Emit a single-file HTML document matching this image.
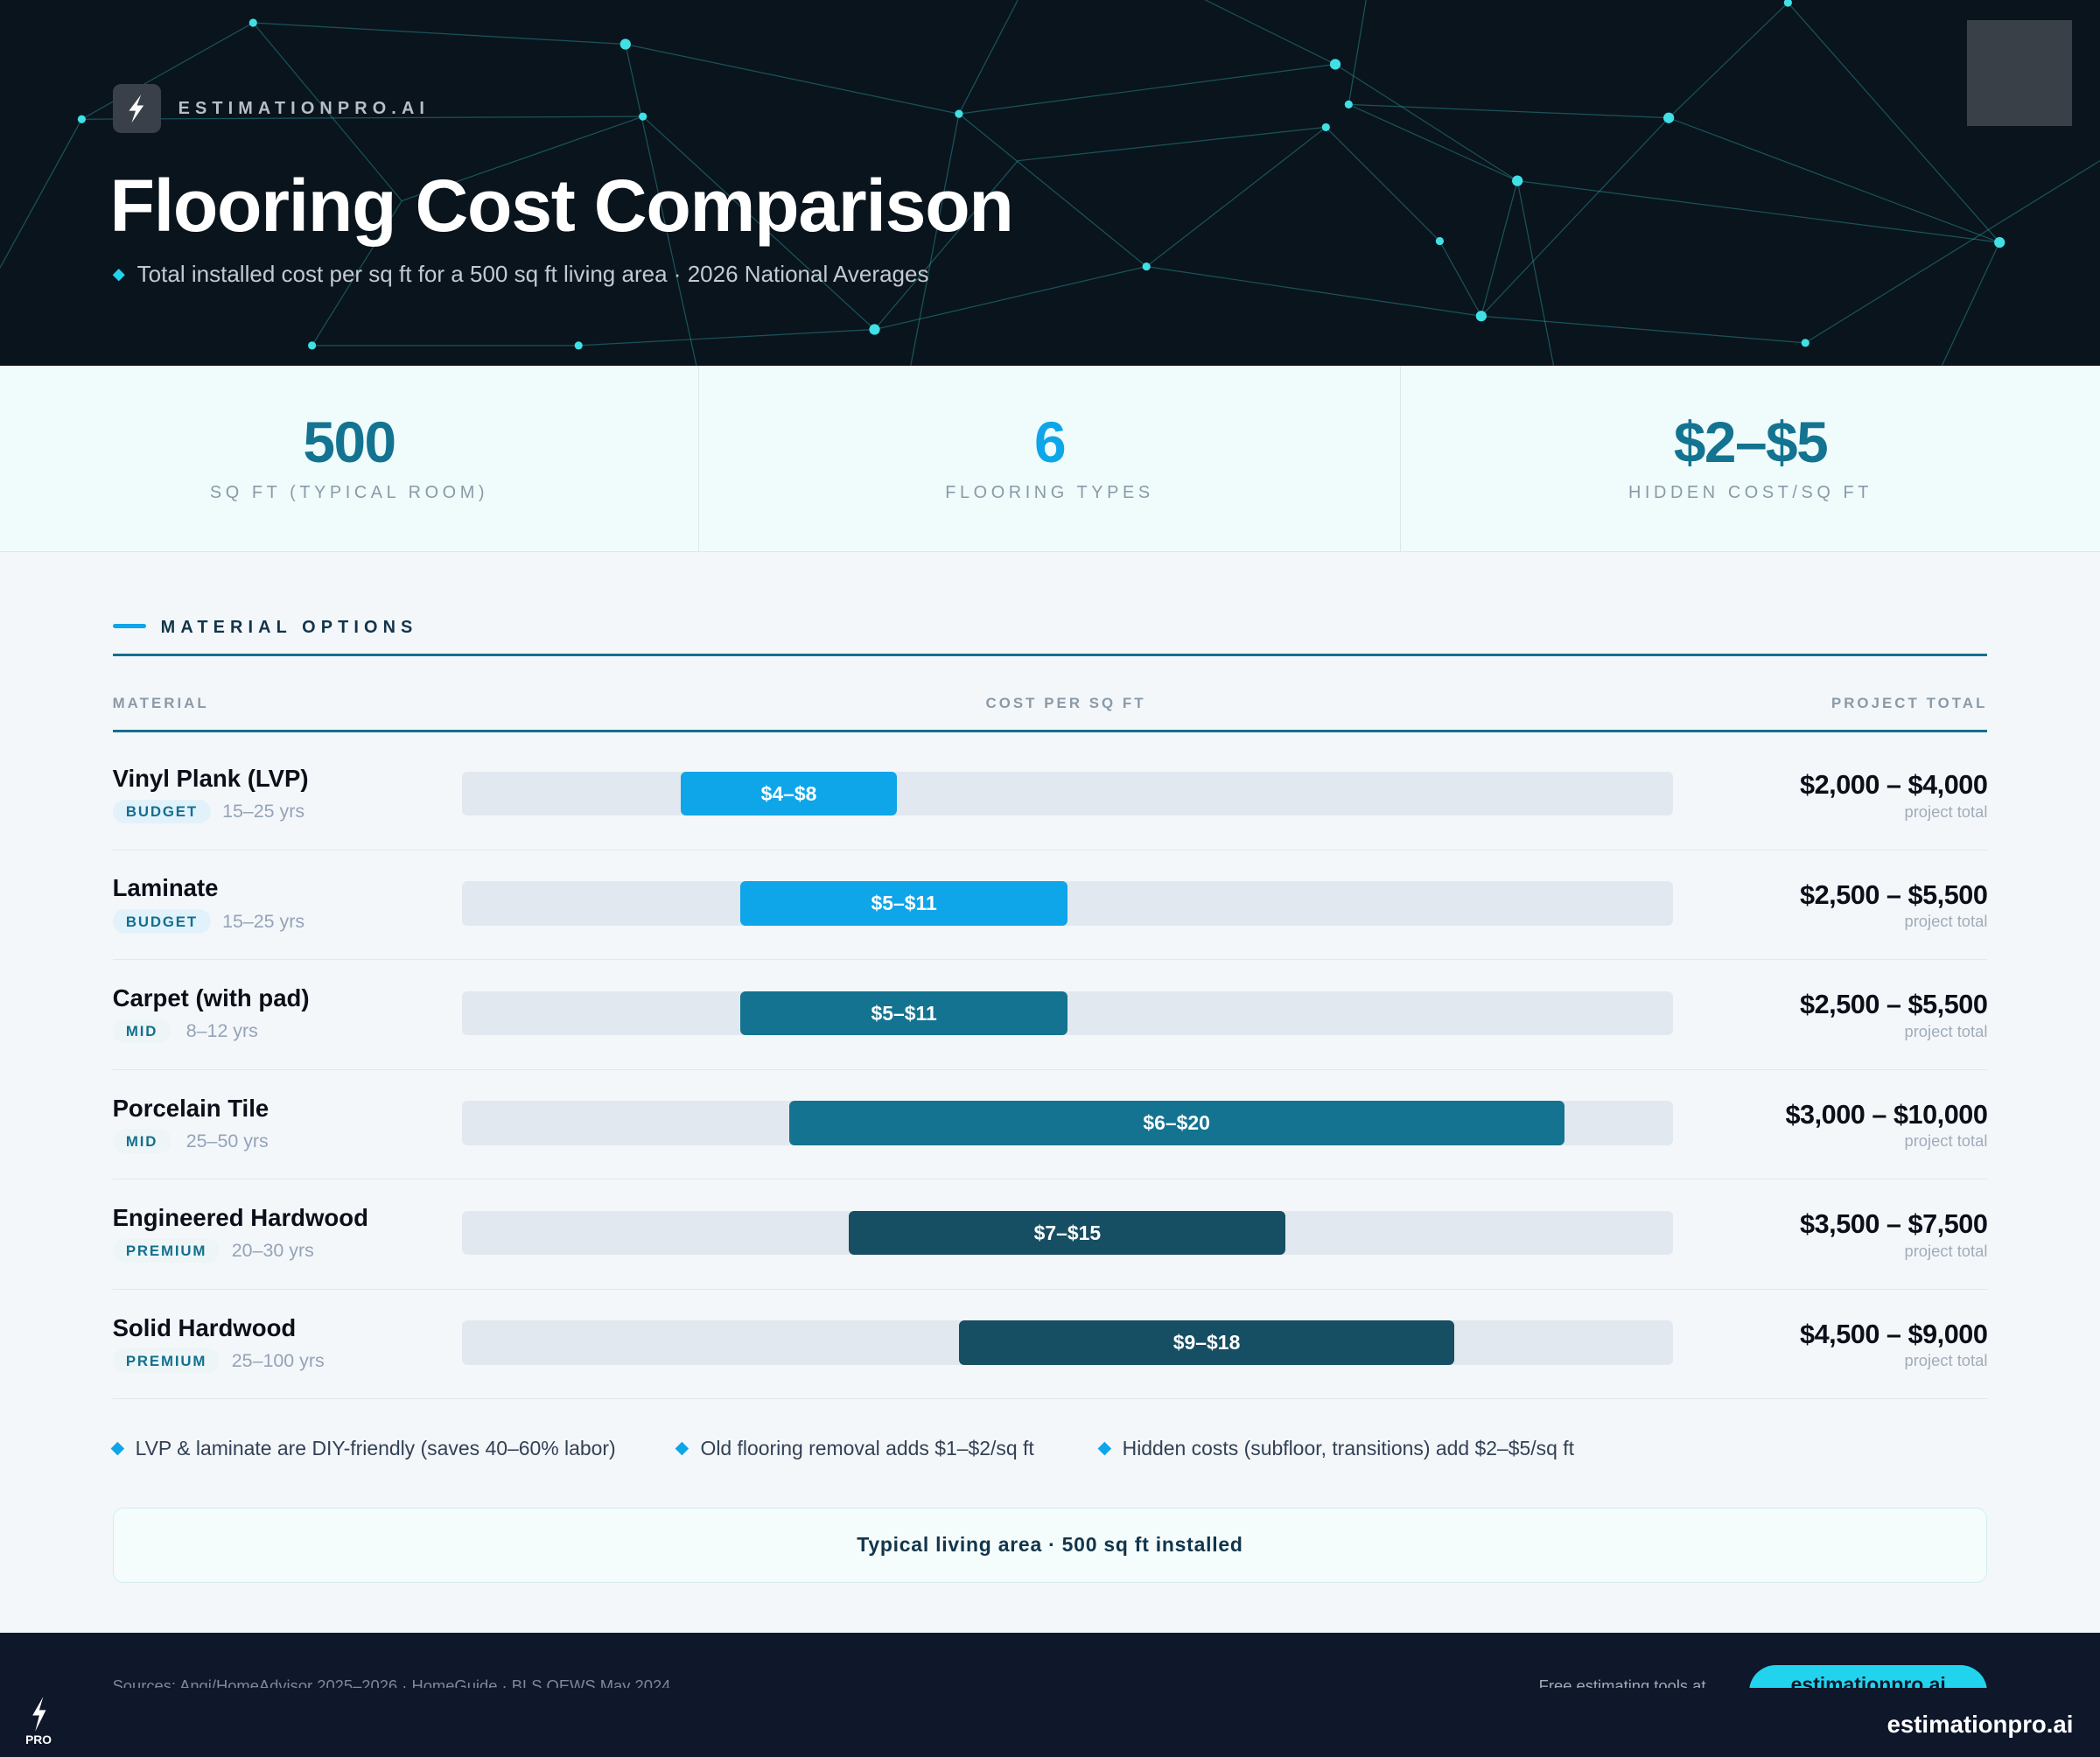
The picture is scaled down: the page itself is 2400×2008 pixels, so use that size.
<!DOCTYPE html>
<html><head><meta charset="utf-8"><style>
*{margin:0;padding:0;box-sizing:border-box}
html,body{width:2400px;height:2008px;overflow:hidden;background:#f4f7fa}
#w{zoom:1.530612;width:1568px;height:1312px;position:relative;font-family:"Liberation Sans",sans-serif;background:#f4f7fa}
.a{position:absolute}
.hdr{left:0;top:0;width:1568px;height:273px;background:#0a141d;overflow:hidden}
.stats{left:0;top:273px;width:1568px;height:139px;background:#effcfb;border-bottom:1px solid #dbe7ea}
.sc{position:absolute;top:0;height:139px;text-align:center}
.num{font-size:43px;font-weight:bold;margin-top:32px;letter-spacing:-1px}
.lab{font-size:13px;letter-spacing:3px;color:#8a9aa8;margin-top:6px}
.row{position:absolute;left:84px;width:1400px;height:82px;border-bottom:1px solid #e1e7ed}
.nm{position:absolute;left:0;top:18px;font-size:18px;font-weight:bold;color:#0b0f19}
.tag{position:absolute;left:0;top:44px;height:18px;border-radius:9px;font-size:11px;font-weight:bold;letter-spacing:1.2px;color:#13708f;padding:3px 10px;background:#e2f2fb}
.yr{position:absolute;top:45px;font-size:14px;color:#94a3b8}
.trk{position:absolute;left:261px;top:23px;width:904px;height:33px;background:#e2e8ef;border-radius:4px}
.bar{position:absolute;top:23px;height:33px;border-radius:4px;color:#fff;font-size:15px;font-weight:bold;text-align:center;line-height:33px}
.tot{position:absolute;right:0;top:22px;font-size:20px;font-weight:bold;color:#0b0f19;letter-spacing:-.3px}
.pt{position:absolute;right:0;top:46px;font-size:12px;color:#a0acba}
.note{position:absolute;top:1073px;font-size:15px;color:#334155}
.note:before{content:"";display:inline-block;width:7px;height:7px;background:#0ea5e9;transform:rotate(45deg);margin-right:10px;vertical-align:2px}
</style></head><body><div id="w">
<div class="a hdr">
<svg width="1568" height="273" style="position:absolute;left:0;top:0">
<g stroke="#2fb5b5" stroke-opacity=".4" stroke-width="0.8">
<line x1="189" y1="17" x2="467" y2="33"/><line x1="467" y1="33" x2="716" y2="85"/><line x1="716" y1="85" x2="997" y2="48"/><line x1="997" y1="48" x2="1133" y2="135"/><line x1="1007" y1="78" x2="1246" y2="88"/><line x1="1246" y1="88" x2="1335" y2="2"/><line x1="1246" y1="88" x2="1493" y2="181"/><line x1="1133" y1="135" x2="1106" y2="236"/><line x1="1106" y1="236" x2="1348" y2="256"/><line x1="856" y1="199" x2="653" y2="246"/><line x1="653" y1="246" x2="432" y2="258"/><line x1="432" y1="258" x2="233" y2="258"/><line x1="480" y1="87" x2="61" y2="89"/><line x1="480" y1="87" x2="653" y2="246"/><line x1="716" y1="85" x2="856" y2="199"/><line x1="990" y1="95" x2="1075" y2="180"/><line x1="1075" y1="180" x2="1106" y2="236"/><line x1="1007" y1="78" x2="1133" y2="135"/><line x1="1133" y1="135" x2="1493" y2="181"/><line x1="467" y1="33" x2="520" y2="273"/><line x1="716" y1="85" x2="680" y2="273"/><line x1="990" y1="95" x2="856" y2="199"/><line x1="1335" y1="2" x2="1493" y2="181"/><line x1="61" y1="89" x2="0" y2="200"/><line x1="189" y1="17" x2="61" y2="89"/><line x1="1246" y1="88" x2="1106" y2="236"/><line x1="997" y1="48" x2="900" y2="0"/><line x1="1348" y1="256" x2="1568" y2="120"/><line x1="233" y1="258" x2="300" y2="150"/><line x1="300" y1="150" x2="480" y2="87"/><line x1="856" y1="199" x2="1106" y2="236"/><line x1="716" y1="85" x2="760" y2="0"/><line x1="1007" y1="78" x2="1020" y2="0"/><line x1="1133" y1="135" x2="1160" y2="273"/><line x1="1493" y1="181" x2="1450" y2="273"/><line x1="189" y1="17" x2="300" y2="150"/><line x1="653" y1="246" x2="760" y2="120"/><line x1="760" y1="120" x2="990" y2="95"/></g>
<g fill="#3fe0e6"><circle cx="189" cy="17" r="3"/><circle cx="467" cy="33" r="4"/><circle cx="716" cy="85" r="3"/><circle cx="997" cy="48" r="4"/><circle cx="1007" cy="78" r="3"/><circle cx="1133" cy="135" r="4"/><circle cx="1246" cy="88" r="4"/><circle cx="1335" cy="2" r="3"/><circle cx="1493" cy="181" r="4"/><circle cx="1106" cy="236" r="4"/><circle cx="856" cy="199" r="3"/><circle cx="653" cy="246" r="4"/><circle cx="432" cy="258" r="3"/><circle cx="233" cy="258" r="3"/><circle cx="480" cy="87" r="3"/><circle cx="61" cy="89" r="3"/><circle cx="1348" cy="256" r="3"/><circle cx="990" cy="95" r="3"/><circle cx="1075" cy="180" r="3"/></g>
</svg>
<div class="a" style="left:1469px;top:15px;width:78px;height:79px;background:#3a4048"></div>
<div class="a" style="left:84px;top:63px;width:36px;height:36px;border-radius:6px;background:#3a4049"><svg width="36" height="36"><polygon points="21,8 12,20 17,20 14,29 23,16 18,16" fill="#fff"/></svg></div>
<div class="a" style="left:133px;top:74px;font-size:13px;letter-spacing:4px;color:#b8bec6;font-weight:bold">ESTIMATIONPRO.AI</div>
<div class="a" style="left:82px;top:122px;font-size:55px;font-weight:bold;color:#fff;letter-spacing:-0.8px">Flooring Cost Comparison</div>
<div class="a" style="left:84px;top:195px;font-size:17px;color:#c3c9d0"><span style="color:#22d3ee;font-size:12px;vertical-align:2px">◆</span>&nbsp; Total installed cost per sq ft for a 500 sq ft living area · 2026 National Averages</div>
</div>
<div class="a stats">
<div class="sc" style="left:0;width:522px;border-right:1px solid #dbe7ea"><div class="num" style="color:#137391">500</div><div class="lab">SQ FT (TYPICAL ROOM)</div></div>
<div class="sc" style="left:522px;width:524px;border-right:1px solid #dbe7ea"><div class="num" style="color:#0ea5e9">6</div><div class="lab">FLOORING TYPES</div></div>
<div class="sc" style="left:1046px;width:522px"><div class="num" style="color:#137391">$2–$5</div><div class="lab">HIDDEN COST/SQ FT</div></div>
</div>
<div class="a" style="left:84px;top:466px;width:25px;height:3px;background:#0ea5e9;border-radius:2px"></div>
<div class="a" style="left:120px;top:461px;font-size:13px;font-weight:bold;letter-spacing:4px;color:#12354a">MATERIAL OPTIONS</div>
<div class="a" style="left:84px;top:488px;width:1400px;height:2px;background:#13708f"></div>
<div class="a" style="left:84px;top:519px;font-size:11px;font-weight:bold;letter-spacing:2px;color:#8a9aa8">MATERIAL</div>
<div class="a" style="left:736px;top:519px;font-size:11px;font-weight:bold;letter-spacing:2px;color:#8a9aa8">COST PER SQ FT</div>
<div class="a" style="right:84px;top:519px;font-size:11px;font-weight:bold;letter-spacing:2px;color:#8a9aa8">PROJECT TOTAL</div>
<div class="a" style="left:84px;top:545px;width:1400px;height:2px;background:#13708f"></div>

<div class="row" style="top:553px"><div class="nm">Vinyl Plank (LVP)</div><div class="tag">BUDGET</div><div class="yr" style="left:82px">15–25 yrs</div><div class="trk"></div><div class="bar" style="left:424px;width:162px;background:#0ea5e9">$4–$8</div><div class="tot">$2,000 – $4,000</div><div class="pt">project total</div></div>
<div class="row" style="top:635px"><div class="nm">Laminate</div><div class="tag">BUDGET</div><div class="yr" style="left:82px">15–25 yrs</div><div class="trk"></div><div class="bar" style="left:469px;width:244px;background:#0ea5e9">$5–$11</div><div class="tot">$2,500 – $5,500</div><div class="pt">project total</div></div>
<div class="row" style="top:717px"><div class="nm">Carpet (with pad)</div><div class="tag" style="background:#eef5f7">MID</div><div class="yr" style="left:55px">8–12 yrs</div><div class="trk"></div><div class="bar" style="left:469px;width:244px;background:#137391">$5–$11</div><div class="tot">$2,500 – $5,500</div><div class="pt">project total</div></div>
<div class="row" style="top:799px"><div class="nm">Porcelain Tile</div><div class="tag" style="background:#eef5f7">MID</div><div class="yr" style="left:55px">25–50 yrs</div><div class="trk"></div><div class="bar" style="left:505px;width:579px;background:#137391">$6–$20</div><div class="tot">$3,000 – $10,000</div><div class="pt">project total</div></div>
<div class="row" style="top:881px"><div class="nm">Engineered Hardwood</div><div class="tag" style="background:#eef5f7">PREMIUM</div><div class="yr" style="left:89px">20–30 yrs</div><div class="trk"></div><div class="bar" style="left:550px;width:326px;background:#164e63">$7–$15</div><div class="tot">$3,500 – $7,500</div><div class="pt">project total</div></div>
<div class="row" style="top:963px"><div class="nm">Solid Hardwood</div><div class="tag" style="background:#eef5f7">PREMIUM</div><div class="yr" style="left:89px">25–100 yrs</div><div class="trk"></div><div class="bar" style="left:632px;width:370px;background:#164e63">$9–$18</div><div class="tot">$4,500 – $9,000</div><div class="pt">project total</div></div>

<div class="note" style="left:84px">LVP &amp; laminate are DIY-friendly (saves 40–60% labor)</div>
<div class="note" style="left:506px">Old flooring removal adds $1–$2/sq ft</div>
<div class="note" style="left:821px">Hidden costs (subfloor, transitions) add $2–$5/sq ft</div>
<div class="a" style="left:84px;top:1126px;width:1400px;height:56px;border:1px solid #d4ecee;border-radius:8px;background:#f5fcfc;text-align:center;line-height:54px;font-size:15px;font-weight:bold;color:#12354a;letter-spacing:.5px">Typical living area · 500 sq ft installed</div>

<div class="a" style="left:0;top:1219px;width:1568px;height:93px;background:#0f172a;overflow:hidden">
<div class="a" style="left:0;top:0;width:1568px;height:41px;overflow:hidden">
<div class="a" style="left:84px;top:33px;font-size:12px;color:#7d8796">Sources: Angi/HomeAdvisor 2025–2026 · HomeGuide · BLS OEWS May 2024</div>
<div class="a" style="left:1149px;top:33px;font-size:12px;color:#a0a8b4">Free estimating tools at</div>
<div class="a" style="left:1306px;top:24px;width:178px;height:40px;border-radius:20px;background:#22d3ee;text-align:center;font-size:15px;font-weight:bold;color:#0f172a;line-height:30px">estimationpro.ai</div>
</div>
<svg class="a" style="left:18px;top:46px" width="22" height="30"><polygon points="14,2 6,16 11,16 8,28 16,12 11,12" fill="#fff"/></svg>
<div class="a" style="left:19px;top:75px;color:#fff;font-size:9px;font-weight:bold">PRO</div>
<div class="a" style="right:20px;top:58px;color:#fff;font-size:18px;font-weight:bold">estimationpro.ai</div>
</div>
</div></body></html>
